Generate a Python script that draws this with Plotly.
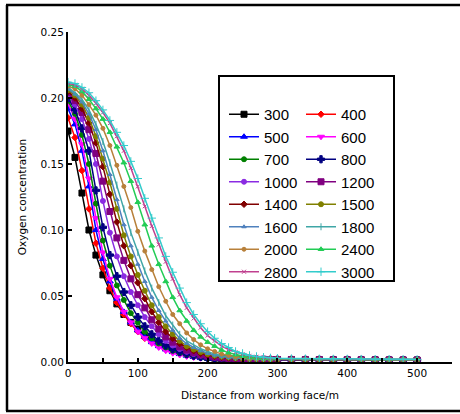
import plotly.graph_objects as go

# distance from working face (m)
distance = [0, 10, 20, 30, 40, 50, 60, 70, 80, 90, 100, 110, 120, 130, 140, 150,
            160, 170, 180, 190, 200, 210, 220, 230, 240, 250, 260, 270, 280, 290, 300,
            320, 340, 360, 380, 400, 420, 440, 460, 480, 500]

series_names = ["300", "400", "500", "600", "700", "800", "1000", "1200",
                "1400", "1500", "1600", "1800", "2000", "2400", "2800", "3000"]

c300 = [0.175, 0.155, 0.128, 0.100, 0.081, 0.066, 0.054, 0.044, 0.036, 0.030, 0.025, 0.020, 0.017, 0.014, 0.011, 0.0092,
        0.0075, 0.0062, 0.0050, 0.0041, 0.0034, 0.0029, 0.0025, 0.0022, 0.0021, 0.0020, 0.0020, 0.0019, 0.0019, 0.0018, 0.0018,
        0.0018, 0.0017, 0.0017, 0.0017, 0.0016, 0.0016, 0.0016, 0.0015, 0.0015, 0.0015]
c400 = [0.185, 0.170, 0.145, 0.116, 0.090, 0.071, 0.056, 0.045, 0.036, 0.029, 0.023, 0.018, 0.015, 0.012, 0.0095, 0.0077,
        0.0062, 0.0050, 0.0041, 0.0034, 0.0028, 0.0024, 0.0022, 0.0021, 0.0020, 0.0019, 0.0019, 0.0018, 0.0018, 0.0018, 0.0017,
        0.0017, 0.0017, 0.0016, 0.0016, 0.0016, 0.0015, 0.0015, 0.0015, 0.0014, 0.0014]
c500 = [0.192, 0.180, 0.160, 0.133, 0.100, 0.078, 0.061, 0.048, 0.038, 0.030, 0.024, 0.019, 0.015, 0.012, 0.0095, 0.0075,
        0.0060, 0.0048, 0.0039, 0.0032, 0.0027, 0.0023, 0.0021, 0.0020, 0.0019, 0.0019, 0.0018, 0.0018, 0.0017, 0.0017, 0.0017,
        0.0016, 0.0016, 0.0016, 0.0015, 0.0015, 0.0015, 0.0014, 0.0014, 0.0014, 0.0014]
c600 = [0.196, 0.184, 0.165, 0.139, 0.109, 0.083, 0.063, 0.049, 0.038, 0.030, 0.023, 0.018, 0.014, 0.011, 0.0085, 0.0067,
        0.0053, 0.0042, 0.0034, 0.0028, 0.0024, 0.0021, 0.0020, 0.0019, 0.0019, 0.0018, 0.0018, 0.0017, 0.0017, 0.0017, 0.0016,
        0.0016, 0.0016, 0.0015, 0.0015, 0.0015, 0.0014, 0.0014, 0.0014, 0.0014, 0.0013]
c700 = [0.198, 0.188, 0.172, 0.150, 0.120, 0.092, 0.073, 0.058, 0.047, 0.037, 0.030, 0.023, 0.018, 0.014, 0.011, 0.0085,
        0.0067, 0.0053, 0.0043, 0.0035, 0.0029, 0.0025, 0.0022, 0.0020, 0.0019, 0.0019, 0.0018, 0.0018, 0.0018, 0.0017, 0.0017,
        0.0017, 0.0016, 0.0016, 0.0016, 0.0015, 0.0015, 0.0015, 0.0014, 0.0014, 0.0014]
c800 = [0.200, 0.191, 0.177, 0.160, 0.130, 0.102, 0.081, 0.065, 0.053, 0.043, 0.034, 0.027, 0.021, 0.016, 0.0125, 0.0097,
        0.0076, 0.0060, 0.0048, 0.0039, 0.0032, 0.0027, 0.0023, 0.0021, 0.0020, 0.0020, 0.0019, 0.0019, 0.0018, 0.0018, 0.0018,
        0.0017, 0.0017, 0.0017, 0.0016, 0.0016, 0.0016, 0.0015, 0.0015, 0.0015, 0.0014]
c1000 = [0.202, 0.195, 0.184, 0.169, 0.150, 0.122, 0.098, 0.080, 0.065, 0.053, 0.043, 0.034, 0.027, 0.021, 0.016, 0.0125,
         0.0098, 0.0077, 0.0060, 0.0048, 0.0039, 0.0032, 0.0027, 0.0024, 0.0022, 0.0021, 0.0020, 0.0020, 0.0019, 0.0019, 0.0018,
         0.0018, 0.0018, 0.0017, 0.0017, 0.0017, 0.0016, 0.0016, 0.0016, 0.0015, 0.0015]
c1200 = [0.204, 0.198, 0.189, 0.176, 0.158, 0.137, 0.114, 0.094, 0.077, 0.063, 0.051, 0.041, 0.032, 0.025, 0.019, 0.015,
         0.0115, 0.0090, 0.0070, 0.0055, 0.0045, 0.0037, 0.0031, 0.0027, 0.0024, 0.0022, 0.0021, 0.0020, 0.0020, 0.0019, 0.0019,
         0.0018, 0.0018, 0.0018, 0.0017, 0.0017, 0.0017, 0.0016, 0.0016, 0.0016, 0.0015]
c1400 = [0.205, 0.200, 0.192, 0.181, 0.166, 0.148, 0.127, 0.106, 0.088, 0.073, 0.060, 0.048, 0.038, 0.030, 0.023, 0.018,
         0.014, 0.011, 0.0085, 0.0066, 0.0053, 0.0043, 0.0036, 0.0030, 0.0026, 0.0023, 0.0022, 0.0021, 0.0020, 0.0020, 0.0019,
         0.0019, 0.0019, 0.0018, 0.0018, 0.0018, 0.0017, 0.0017, 0.0017, 0.0016, 0.0016]
c1500 = [0.206, 0.202, 0.195, 0.185, 0.171, 0.154, 0.136, 0.116, 0.096, 0.080, 0.066, 0.054, 0.043, 0.034, 0.027, 0.021,
         0.016, 0.012, 0.0095, 0.0075, 0.0060, 0.0048, 0.0040, 0.0034, 0.0029, 0.0025, 0.0023, 0.0022, 0.0021, 0.0020, 0.0020,
         0.0019, 0.0019, 0.0019, 0.0018, 0.0018, 0.0018, 0.0017, 0.0017, 0.0017, 0.0016]
c1600 = [0.207, 0.203, 0.197, 0.188, 0.176, 0.160, 0.142, 0.123, 0.104, 0.088, 0.074, 0.061, 0.049, 0.039, 0.031, 0.024,
         0.018, 0.014, 0.011, 0.0085, 0.0065, 0.0052, 0.0042, 0.0035, 0.0030, 0.0026, 0.0024, 0.0022, 0.0021, 0.0021, 0.0020,
         0.0020, 0.0019, 0.0019, 0.0019, 0.0018, 0.0018, 0.0018, 0.0017, 0.0017, 0.0017]
c1800 = [0.208, 0.204, 0.199, 0.191, 0.180, 0.167, 0.151, 0.134, 0.116, 0.098, 0.083, 0.069, 0.056, 0.045, 0.035, 0.028,
         0.021, 0.016, 0.013, 0.010, 0.0080, 0.0060, 0.0048, 0.0040, 0.0033, 0.0028, 0.0025, 0.0023, 0.0022, 0.0021, 0.0021,
         0.0020, 0.0020, 0.0020, 0.0019, 0.0019, 0.0019, 0.0018, 0.0018, 0.0018, 0.0017]
c2000 = [0.209, 0.207, 0.202, 0.195, 0.187, 0.177, 0.164, 0.149, 0.133, 0.117, 0.099, 0.084, 0.070, 0.057, 0.046, 0.036,
         0.029, 0.022, 0.017, 0.013, 0.010, 0.0080, 0.0060, 0.0050, 0.0040, 0.0034, 0.0029, 0.0026, 0.0024, 0.0023, 0.0022,
         0.0021, 0.0021, 0.0020, 0.0020, 0.0020, 0.0019, 0.0019, 0.0019, 0.0018, 0.0018]
c2400 = [0.210, 0.209, 0.205, 0.199, 0.192, 0.184, 0.174, 0.163, 0.151, 0.137, 0.121, 0.104, 0.088, 0.074, 0.061, 0.049,
         0.039, 0.031, 0.024, 0.019, 0.015, 0.012, 0.0090, 0.0070, 0.0055, 0.0045, 0.0037, 0.0031, 0.0027, 0.0025, 0.0024,
         0.0023, 0.0022, 0.0022, 0.0021, 0.0021, 0.0020, 0.0020, 0.0019, 0.0019, 0.0019]
c2800 = [0.211, 0.210, 0.207, 0.202, 0.196, 0.189, 0.181, 0.171, 0.160, 0.147, 0.133, 0.118, 0.103, 0.089, 0.076, 0.063,
         0.051, 0.041, 0.033, 0.026, 0.020, 0.016, 0.012, 0.0095, 0.0075, 0.0060, 0.0047, 0.0040, 0.0033, 0.0029, 0.0026,
         0.0025, 0.0024, 0.0023, 0.0022, 0.0022, 0.0021, 0.0021, 0.0020, 0.0020, 0.0019]
c3000 = [0.212, 0.211, 0.208, 0.204, 0.198, 0.191, 0.183, 0.174, 0.164, 0.152, 0.139, 0.124, 0.109, 0.094, 0.080, 0.068,
         0.056, 0.045, 0.036, 0.029, 0.023, 0.018, 0.014, 0.011, 0.0080, 0.0065, 0.0050, 0.0042, 0.0036, 0.0031, 0.0028,
         0.0026, 0.0025, 0.0024, 0.0023, 0.0023, 0.0022, 0.0021, 0.0021, 0.0020, 0.0020]

values = [c300, c400, c500, c600, c700, c800, c1000, c1200,
          c1400, c1500, c1600, c1800, c2000, c2400, c2800, c3000]

colors = ["#000000", "#ff0000", "#0000ff", "#ff00ff", "#008000", "#000080", "#8a2be2", "#800080",
          "#800000", "#808000", "#4f81bd", "#3fa6a6", "#b8803a", "#22cc55", "#c0408f", "#33cccc"]
symbols = ["square", "diamond", "triangle-up", "triangle-down", "circle", "cross", "circle", "square",
           "diamond", "circle", "triangle-up", "line-ns-open", "circle", "triangle-up", "x-thin-open", "cross-thin-open"]
sizes = [6, 5, 6, 6, 5, 6, 5, 6, 5, 5, 4, 5, 4, 5, 4, 6]

fig = go.Figure()
for i, (name, vals) in enumerate(zip(series_names, values)):
    fig.add_trace(go.Scatter(
        x=distance, y=vals, name=name, mode="lines+markers",
        line=dict(color=colors[i], width=1.5),
        marker=dict(symbol=symbols[i], size=sizes[i], color=colors[i],
                    line=dict(color=colors[i], width=1)),
        legend="legend" if i % 2 == 0 else "legend2",
    ))

W, H = 460, 414
L, R, T, B = 68, 8, 32, 52
pw, ph = W - L - R, H - T - B


def px(x):
    return (x - L) / pw


def py(y):
    return (H - B - y) / ph


legend_font = dict(family="Liberation Sans, Arial, sans-serif", size=15, color="#000000")
fig.update_layout(
    width=W, height=H,
    margin=dict(l=L, r=R, t=T, b=B),
    paper_bgcolor="white", plot_bgcolor="white",
    font=dict(family="DejaVu Sans, sans-serif", size=10.5, color="#000000"),
    legend=dict(x=px(224), y=py(98), xanchor="left", yanchor="top",
                bgcolor="rgba(0,0,0,0)", borderwidth=0, font=legend_font,
                tracegroupgap=0, itemwidth=30),
    legend2=dict(x=px(301), y=py(98), xanchor="left", yanchor="top",
                 bgcolor="rgba(0,0,0,0)", borderwidth=0, font=legend_font,
                 tracegroupgap=0, itemwidth=30),
    xaxis=dict(range=[0, 550], dtick=100, tick0=0, showline=True, linecolor="black", linewidth=2,
               ticks="inside", ticklen=4, tickwidth=1.5, tickcolor="black",
               minor=dict(dtick=50, ticks="inside", ticklen=4, tickwidth=1.5, tickcolor="black"),
               showgrid=False, zeroline=False,
               title=dict(text="Distance from working face/m", standoff=14,
                          font=dict(size=10.5))),
    yaxis=dict(range=[0, 0.25], dtick=0.05, tick0=0, tickformat=".2f", showline=True,
               linecolor="black", linewidth=2, ticks="inside", ticklen=4, tickwidth=1.5,
               tickcolor="black", showgrid=False, zeroline=False,
               title=dict(text="Oxygen concentration", standoff=12, font=dict(size=10.5))),
    shapes=[
        dict(type="rect", xref="paper", yref="paper", x0=px(219), x1=px(394), y0=py(281), y1=py(76),
             line=dict(color="black", width=2), fillcolor="rgba(0,0,0,0)", layer="above"),
        dict(type="line", xref="paper", yref="paper", x0=px(7), x1=px(7), y0=py(5), y1=py(411),
             line=dict(color="black", width=2.5)),
        dict(type="line", xref="paper", yref="paper", x0=px(6), x1=px(462), y0=py(5), y1=py(5),
             line=dict(color="black", width=2.5)),
        dict(type="line", xref="paper", yref="paper", x0=px(6), x1=px(462), y0=py(411), y1=py(411),
             line=dict(color="black", width=2.5)),
    ],
)

fig.write_html("out.html")
